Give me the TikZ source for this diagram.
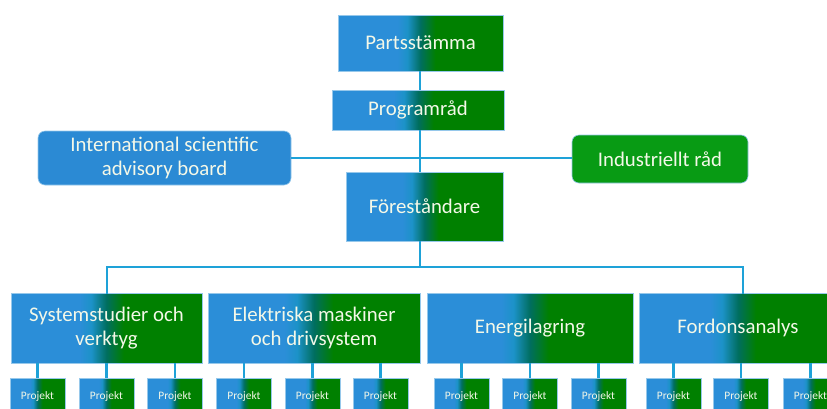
\documentclass[tikz,border=0pt]{standalone}
\usepackage{fontspec}
\setmainfont{Carlito}
\definecolor{cblue}{RGB}{43,142,216}
\definecolor{ccyan}{RGB}{28,146,200}
\definecolor{cteal}{RGB}{0,110,95}
\definecolor{cgreen}{RGB}{0,128,0}
\definecolor{rblue}{RGB}{43,138,212}
\definecolor{rgreen}{RGB}{8,155,20}
\definecolor{linec}{RGB}{30,162,216}
\definecolor{edgec}{RGB}{150,200,235}
\definecolor{txtc}{RGB}{244,248,232}
\pgfdeclarehorizontalshading{bgshade}{100bp}{color(0bp)=(cblue); color(43bp)=(cblue); color(46bp)=(ccyan); color(50bp)=(cteal); color(54.5bp)=(cgreen); color(100bp)=(cgreen)}
\begin{document}
\begin{tikzpicture}[x=1pt,y=-1pt,
  gbox/.style={shade, shading=bgshade, draw=edgec, line width=0.6pt, inner sep=0pt, align=center, text=txtc, font=\fontsize{20.8}{24.5}\selectfont},
  pbox/.style={gbox, minimum width=55pt, minimum height=38pt, font=\fontsize{11.4}{13}\selectfont},
  rbox/.style={draw=edgec, line width=0.6pt, rounded corners=7pt, inner sep=0pt, align=center, text=txtc, font=\fontsize{20.8}{24}\selectfont},
  conn/.style={draw=linec, line width=2.6pt}]
\useasboundingbox (0,0) rectangle (827,408);
\clip (0,0) rectangle (827,408);
% top nodes
\node[gbox, minimum width=165pt, minimum height=56pt] (ps) at (420.5,43) {Partsstämma};
\node[gbox, minimum width=172pt, minimum height=40pt] (pr) at (418,110) {Programråd};
\node[rbox, fill=rblue, minimum width=253pt, minimum height=54pt] (isab) at (164.5,158) {International scientific\\advisory board};
\node[rbox, fill=rgreen, minimum width=176pt, minimum height=48pt] (ind) at (660,159) {Industriellt råd};
\node[gbox, minimum width=157pt, minimum height=69pt] (fo) at (424.5,206.5) {Föreståndare};
% level boxes
\node[gbox, minimum width=191pt, minimum height=70pt] (ss) at (106.5,328) {Systemstudier och\\verktyg};
\node[gbox, minimum width=212pt, minimum height=70pt] (el) at (314,328) {Elektriska maskiner\\och drivsystem};
\node[gbox, minimum width=206pt, minimum height=70pt] (en) at (530,328) {Energilagring};
\node[gbox, minimum width=198pt, minimum height=70pt] (fa) at (738,328) {Fordonsanalys};
% projects
\node[pbox] (s1) at (37.5,397) {Projekt};
\node[pbox] (s2) at (106.5,397) {Projekt};
\node[pbox] (s3) at (175,397) {Projekt};
\node[pbox] (e1) at (244,397) {Projekt};
\node[pbox] (e2) at (312.5,397) {Projekt};
\node[pbox] (e3) at (380.5,397) {Projekt};
\node[pbox] (n1) at (461.5,397) {Projekt};
\node[pbox] (n2) at (530,397) {Projekt};
\node[pbox] (n3) at (598.5,397) {Projekt};
\node[pbox] (f1) at (673.5,397) {Projekt};
\node[pbox] (f2) at (741,397) {Projekt};
\node[pbox] (f3) at (810.5,397) {Projekt};
% connectors
\coordinate (spine) at (420,0);
\coordinate (busL) at (107,267);
\coordinate (busR) at (743,267);
\draw[conn] (spine |- ps.south) -- (spine |- pr.north);
\draw[conn] (spine |- pr.south) -- (spine |- fo.north);
\draw[conn] (isab.east) -- (isab.east -| ind.west);
\draw[conn] (spine |- fo.south) -- (spine |- busL);
\draw[conn, line cap=rect] (busL |- ss.north) -- (busL) -- (busR) -- (busR |- fa.north);
\foreach \p/\q in {s1/ss,s2/ss,s3/ss,e1/el,e2/el,e3/el,n1/en,n2/en,n3/en,f1/fa,f2/fa,f3/fa}{
  \draw[conn] (\p.north) -- (\p.north |- \q.south);
}
\end{tikzpicture}
\end{document}
